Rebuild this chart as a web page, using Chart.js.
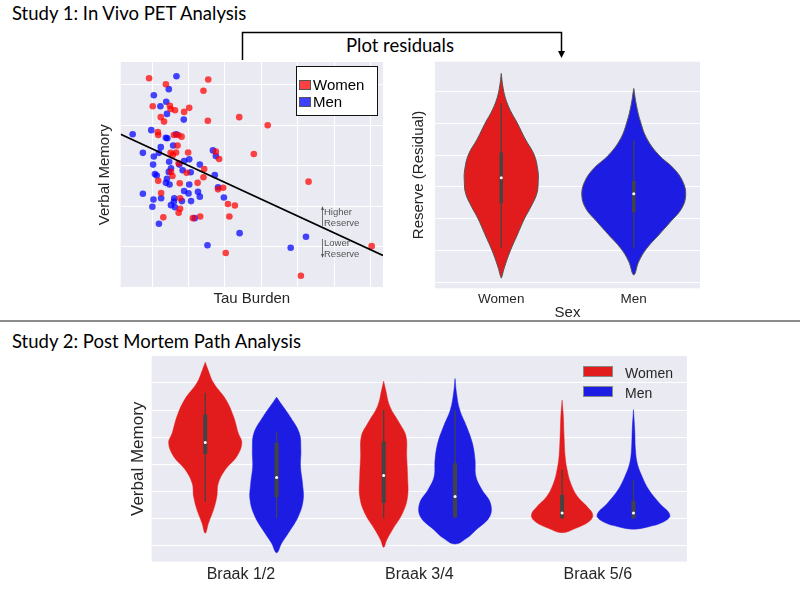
<!DOCTYPE html>
<html>
<head>
<meta charset="utf-8">
<script src="https://cdn.jsdelivr.net/npm/chart.js@4.4.1/dist/chart.umd.min.js"></script>
<style>
    body { margin: 0; background: #fff; }
    #page { position: relative; width: 800px; height: 590px; overflow: hidden; }
    .abs { position: absolute; white-space: nowrap; }
    .heading { font-family: Lato, "Open Sans", sans-serif; font-size: 18.5px; line-height: 18px; color: #000; }
    .legendBox { background: #fff; border: 1px solid #111; font-family: "Liberation Sans", Arial, sans-serif; }
    .sw { position: absolute; width: 10px; height: 8px; border: 1px solid #555; }
    .lt { position: absolute; font-size: 15px; line-height: 15px; color: #000; }
    .note { font-family: "Liberation Sans", Arial, sans-serif; font-size: 9.5px; line-height: 10.5px; color: #555; }
    .bigLeg { font-family: "Liberation Sans", Arial, sans-serif; font-size: 14px; line-height: 14px; color: #262626; }
    .bigSw { position: absolute; width: 28px; height: 9px; border: 1px solid #888; }
    canvas { position: absolute; }
</style>
</head>
<body>
<div id="page">
    <div class="abs heading" style="left:12px; top:4px;">Study 1: In Vivo PET Analysis</div>
    <div class="abs heading" style="left:346px; top:36px;">Plot residuals</div>
    <div class="abs heading" style="left:12px; top:332px;">Study 2: Post Mortem Path Analysis</div>

    <canvas id="scatterChart" width="295" height="255" style="left:95px; top:55px;"></canvas>
    <canvas id="residualChart" width="300" height="268" style="left:405px; top:55px;"></canvas>
    <canvas id="braakChart" width="575" height="240" style="left:120px; top:350px;"></canvas>

    <div class="abs legendBox" style="left:296px; top:66px; width:80px; height:48px;">
        <div class="sw" style="left:2px; top:13px; background:rgba(255,0,0,0.75);"></div>
        <div class="lt" style="left:16px; top:10px;">Women</div>
        <div class="sw" style="left:2px; top:30px; background:rgba(0,0,255,0.75);"></div>
        <div class="lt" style="left:16px; top:27px;">Men</div>
    </div>
    <div class="abs note" style="left:324px; top:207px;">Higher<br>Reserve</div>
    <div class="abs note" style="left:324px; top:238px;">Lower<br>Reserve</div>

    <div class="abs bigLeg" style="left:583px; top:366px; width:110px; height:36px;">
        <div class="bigSw" style="left:0; top:0; background:#e21c1c;"></div>
        <div class="abs" style="left:42px; top:0;">Women</div>
        <div class="bigSw" style="left:0; top:20px; background:#1c1ce2;"></div>
        <div class="abs" style="left:42px; top:20px;">Men</div>
    </div>

    <svg class="abs" width="800" height="590" style="left:0; top:0; pointer-events:none;">
        <polyline points="242.5,60 242.5,32.5 561.5,32.5 561.5,52" fill="none" stroke="#000" stroke-width="1.5"/>
        <polygon points="558,51 565,51 561.5,58" fill="#000"/>
        <line x1="0" y1="321" x2="800" y2="321" stroke="#666" stroke-width="1.5"/>
        <line x1="322.5" y1="209" x2="322.5" y2="226" stroke="#555" stroke-width="0.8"/>
        <polygon points="321,210 324,210 322.5,206" fill="#555"/>
        <line x1="322.5" y1="239" x2="322.5" y2="255" stroke="#555" stroke-width="0.8"/>
        <polygon points="321,254 324,254 322.5,258" fill="#555"/>
    </svg>
</div>

<script>
// Study 1 scatter: tau burden vs verbal memory
const womenTau = [0.92, 1.38, 2.54, 2.41, 1.02, 1.49, 1.51, 1.63, 1.88, 2.02, 1.24, 1.33, 2.53, 3.39, 4.17,
    1.16, 1.17, 1.60, 1.72, 1.81, 1.70, 1.66, 1.51, 1.57, 1.99, 2.75, 2.84, 3.79, 1.73, 1.95, 2.43, 1.52,
    1.56, 2.41, 1.17, 1.76, 2.25, 5.29, 1.25, 2.81, 2.95, 3.08, 3.27, 1.77, 1.73, 1.31, 2.12, 2.32, 3.12,
    1.77, 3.02, 5.08, 7.02];
const womenMemory = [5.16, 5.01, 5.13, 4.85, 4.47, 4.48, 4.40, 4.37, 4.33, 4.43, 4.20, 4.09, 4.11, 4.20, 4.00,
    3.83, 3.76, 3.76, 3.76, 3.72, 3.50, 3.33, 3.32, 3.27, 3.33, 3.35, 3.17, 3.29, 3.06, 2.83, 2.92, 2.85,
    2.75, 2.72, 2.63, 2.57, 2.58, 2.61, 2.33, 2.42, 2.46, 2.06, 2.02, 1.94, 1.84, 1.73, 1.71, 1.75, 1.75,
    2.20, 0.85, 0.29, 1.02];
const menTau = [1.67, 1.46, 1.05, 1.39, 1.23, 1.41, 1.87, 0.98, 0.47, 1.38, 1.42, 1.66, 1.58, 1.24, 1.19,
    0.75, 1.05, 2.67, 2.75, 1.47, 1.03, 2.02, 1.88, 1.75, 2.31, 1.52, 1.46, 1.84, 2.06, 1.08, 1.13, 2.72,
    1.41, 1.38, 1.48, 2.02, 0.75, 1.25, 1.61, 1.60, 1.88, 2.00, 2.26, 2.31, 1.82, 2.07, 1.04, 1.01, 1.52,
    1.63, 2.81, 2.97, 1.19, 2.17, 3.40, 2.52, 4.80, 5.22];
const menMemory = [5.21, 4.89, 4.74, 4.58, 4.47, 4.28, 4.14, 3.88, 3.78, 3.69, 3.68, 3.78, 3.50, 3.46, 3.32,
    3.32, 3.23, 3.38, 3.24, 3.10, 3.03, 3.16, 3.12, 3.03, 3.03, 2.94, 2.85, 2.89, 2.84, 2.80, 2.76, 2.77,
    2.68, 2.58, 2.54, 2.54, 2.31, 2.20, 2.20, 2.12, 2.38, 2.32, 2.36, 2.24, 2.13, 2.13, 2.17, 1.99, 2.03,
    1.98, 2.47, 2.22, 1.57, 1.71, 1.34, 1.04, 0.98, 1.25];
const fitTau = [0.14, 7.33];
const fitMemory = [3.78, 0.79];

// Study 1 residual violins (value levels and half widths)
const sexLabels = ["Women", "Men"];
const womenResLevels = [3.55, 3.2, 2.8, 2.4, 2.0, 1.5, 1.0, 0.5, 0.2, -0.2, -0.6, -1.0, -1.5, -2.0, -2.5, -2.8, -2.85];
const womenResWidth = [0, 0.01, 0.03, 0.068, 0.121, 0.181, 0.249, 0.277, 0.279, 0.269, 0.226, 0.174, 0.121, 0.068, 0.025, 0.005, 0];
const menResLevels = [3.08, 2.56, 2.04, 1.52, 1.0, 0.58, 0.17, -0.25, -0.67, -1.08, -1.5, -1.92, -2.33, -2.75];
const menResWidth = [0, 0.02, 0.051, 0.098, 0.189, 0.302, 0.37, 0.392, 0.362, 0.279, 0.189, 0.098, 0.038, 0];
// [low whisker, q1, median, q3, high whisker]
const womenResBox = [-1.9, -0.51, 0.29, 1.08, 2.62];
const menResBox = [-1.92, -0.8, -0.21, 0.19, 1.47];

// Study 2 Braak stage violins
const braakLabels = ["Braak 1/2", "Braak 3/4", "Braak 5/6"];
const womenB12Levels = [6.76, 6.49, 6.0, 5.38, 4.77, 4.15, 3.78, 3.29, 2.80, 2.30, 1.81, 1.32, 0.83, 0.46];
const womenB12Width = [0, 0.015, 0.046, 0.116, 0.158, 0.185, 0.205, 0.177, 0.112, 0.073, 0.065, 0.046, 0.018, 0];
const menB12Levels = [5.47, 5.26, 4.77, 4.15, 3.54, 2.92, 2.30, 1.69, 1.07, 0.46, 0.09, -0.26];
const menB12Width = [0, 0.022, 0.074, 0.127, 0.136, 0.134, 0.145, 0.149, 0.121, 0.065, 0.028, 0];
const womenB34Levels = [6.06, 5.75, 5.14, 4.52, 4.03, 3.29, 2.55, 1.81, 1.20, 0.58, 0.21, -0.06];
const womenB34Width = [0, 0.011, 0.034, 0.088, 0.125, 0.129, 0.134, 0.134, 0.106, 0.048, 0.017, 0];
const menB34Levels = [6.16, 5.63, 5.01, 4.40, 3.78, 3.17, 2.55, 2.06, 1.57, 1.07, 0.58, 0.27, 0.06];
const menB34Width = [0, 0.008, 0.026, 0.064, 0.097, 0.112, 0.117, 0.151, 0.198, 0.194, 0.117, 0.064, 0];
const womenB56Levels = [5.36, 4.77, 4.03, 3.29, 2.80, 2.30, 1.81, 1.44, 1.13, 0.89, 0.64, 0.48];
const womenB56Width = [0, 0.007, 0.011, 0.017, 0.028, 0.048, 0.086, 0.14, 0.172, 0.151, 0.076, 0];
const menB56Levels = [5.01, 4.27, 3.54, 3.04, 2.55, 2.06, 1.57, 1.13, 0.89, 0.70, 0.61];
const menB56Width = [0, 0.007, 0.011, 0.021, 0.048, 0.086, 0.145, 0.204, 0.172, 0.086, 0];
const womenB12Box = [1.63, 3.38, 3.80, 4.83, 5.63];
const menB12Box = [1.01, 1.79, 2.51, 3.78, 4.21];
const womenB34Box = [1.01, 1.57, 2.59, 3.84, 5.01];
const menB34Box = [1.01, 1.05, 1.81, 3.04, 5.01];
const womenB56Box = [0.99, 1.01, 1.20, 1.87, 2.80];
const menB56Box = [0.99, 1.01, 1.20, 1.66, 2.43];

const RED = "#e21c1c";
const BLUE = "#1c1ce2";

Chart.defaults.font.family = "Liberation Sans, Arial, sans-serif";
Chart.defaults.color = "#262626";
Chart.defaults.animation = false;
Chart.defaults.plugins.legend.display = false;
Chart.defaults.plugins.tooltip.enabled = false;

const plotBg = {
    id: "plotBg",
    beforeDraw(chart) {
        const { ctx, chartArea: a } = chart;
        ctx.save();
        ctx.fillStyle = "#eaeaf2";
        ctx.fillRect(a.left, a.top, a.right - a.left, a.bottom - a.top);
        ctx.restore();
    }
};

function toPoints(xs, ys) {
    return xs.map((x, i) => ({ x, y: ys[i] }));
}

function violinSets(center, levels, widths, box, color, edge, edgeWidth, boxWidth) {
    const right = levels.map((y, i) => ({ x: center + widths[i], y }));
    const left = levels.slice(0, -1).map((y, i) => ({ x: center - widths[i], y })).reverse();
    return [
        {
            data: right.concat(left),
            showLine: true,
            fill: "shape",
            backgroundColor: color,
            borderColor: edge,
            borderWidth: edgeWidth,
            pointRadius: 0,
            tension: 0.4,
            order: 2
        },
        {
            data: [{ x: center, y: box[0] }, { x: center, y: box[4] }],
            showLine: true,
            borderColor: "#444",
            borderWidth: 1.3,
            pointRadius: 0,
            order: 1
        },
        {
            data: [{ x: center, y: box[1] }, { x: center, y: box[3] }],
            showLine: true,
            borderColor: "#444",
            borderWidth: boxWidth,
            pointRadius: 0,
            order: 1
        },
        {
            data: [{ x: center, y: box[2] }],
            pointRadius: 1.5,
            backgroundColor: "#fff",
            borderWidth: 0,
            order: 0
        }
    ];
}

function hiddenAxis(min, max, size, horizontal) {
    return {
        type: "linear",
        min,
        max,
        ticks: { display: false, stepSize: 1, includeBounds: false },
        grid: { color: "#fff", lineWidth: 1, drawTicks: false },
        border: { display: false },
        afterFit: (scale) => {
            if (horizontal) scale.height = size; else scale.width = size;
        }
    };
}

function renderScatter() {
    const x = hiddenAxis(0.142, 7.33, 22.5, true);
    x.title = { display: true, text: "Tau Burden", font: { size: 15 }, padding: { top: 0, bottom: 2 } };
    const y = hiddenAxis(0, 5.56, 25.7, false);
    y.title = { display: true, text: "Verbal Memory", font: { size: 15 }, padding: { top: 1, bottom: 0 } };

    new Chart(document.getElementById("scatterChart"), {
        type: "scatter",
        data: {
            datasets: [
                {
                    data: toPoints(fitTau, fitMemory),
                    showLine: true,
                    borderColor: "#000",
                    borderWidth: 1.8,
                    pointRadius: 0,
                    order: 0
                },
                {
                    label: "Women",
                    data: toPoints(womenTau, womenMemory),
                    backgroundColor: "rgba(255,0,0,0.72)",
                    borderWidth: 0,
                    pointRadius: 3.3,
                    order: 1
                },
                {
                    label: "Men",
                    data: toPoints(menTau, menMemory),
                    backgroundColor: "rgba(0,0,255,0.72)",
                    borderWidth: 0,
                    pointRadius: 3.3,
                    order: 1
                }
            ]
        },
        options: {
            responsive: false,
            layout: { padding: { top: 7, right: 7, left: 0, bottom: 0 } },
            scales: { x, y }
        },
        plugins: [plotBg]
    });
}

function renderResiduals() {
    const y = hiddenAxis(-3.17, 3.92, 30, false);
    y.title = { display: true, text: "Reserve (Residual)", font: { size: 15 }, padding: { top: 5, bottom: 0 } };

    new Chart(document.getElementById("residualChart"), {
        type: "scatter",
        data: {
            datasets: [
                ...violinSets(0, womenResLevels, womenResWidth, womenResBox, RED, "#555", 1, 3.5),
                ...violinSets(1, menResLevels, menResWidth, menResBox, BLUE, "#555", 1, 3.5)
            ]
        },
        options: {
            responsive: false,
            layout: { padding: { top: 6.7, right: 5, left: 0, bottom: 0 } },
            scales: {
                x: {
                    type: "linear",
                    min: -0.5,
                    max: 1.5,
                    afterBuildTicks: (scale) => {
                        scale.ticks = sexLabels.map((_, i) => ({ value: i }));
                    },
                    ticks: { callback: (v) => sexLabels[v], font: { size: 13.5 }, padding: 3 },
                    grid: { display: false, drawTicks: false },
                    border: { display: false },
                    title: { display: true, text: "Sex", font: { size: 15 }, padding: { top: 0, bottom: 1 } },
                    afterFit: (scale) => { scale.height = 34.7; }
                },
                y
            }
        },
        plugins: [plotBg]
    });
}

function renderBraak() {
    const y = hiddenAxis(-0.59, 6.99, 31.7, false);
    y.title = { display: true, text: "Verbal Memory", font: { size: 17 }, padding: { top: 8, bottom: 0 } };
    const off = 0.2;

    new Chart(document.getElementById("braakChart"), {
        type: "scatter",
        data: {
            datasets: [
                ...violinSets(0 - off, womenB12Levels, womenB12Width, womenB12Box, RED, RED, 0.5, 4),
                ...violinSets(0 + off, menB12Levels, menB12Width, menB12Box, BLUE, BLUE, 0.5, 4),
                ...violinSets(1 - off, womenB34Levels, womenB34Width, womenB34Box, RED, RED, 0.5, 4),
                ...violinSets(1 + off, menB34Levels, menB34Width, menB34Box, BLUE, BLUE, 0.5, 4),
                ...violinSets(2 - off, womenB56Levels, womenB56Width, womenB56Box, RED, RED, 0.5, 4),
                ...violinSets(2 + off, menB56Levels, menB56Width, menB56Box, BLUE, BLUE, 0.5, 4)
            ]
        },
        options: {
            responsive: false,
            layout: { padding: { top: 6, right: 8, left: 0, bottom: 0 } },
            scales: {
                x: {
                    type: "linear",
                    min: -0.5,
                    max: 2.5,
                    afterBuildTicks: (scale) => {
                        scale.ticks = braakLabels.map((_, i) => ({ value: i }));
                    },
                    ticks: { callback: (v) => braakLabels[v], font: { size: 16 }, padding: 3 },
                    grid: { display: false, drawTicks: false },
                    border: { display: false },
                    afterFit: (scale) => { scale.height = 28.3; }
                },
                y
            }
        },
        plugins: [plotBg]
    });
}

renderScatter();
renderResiduals();
renderBraak();
</script>
</body>
</html>
